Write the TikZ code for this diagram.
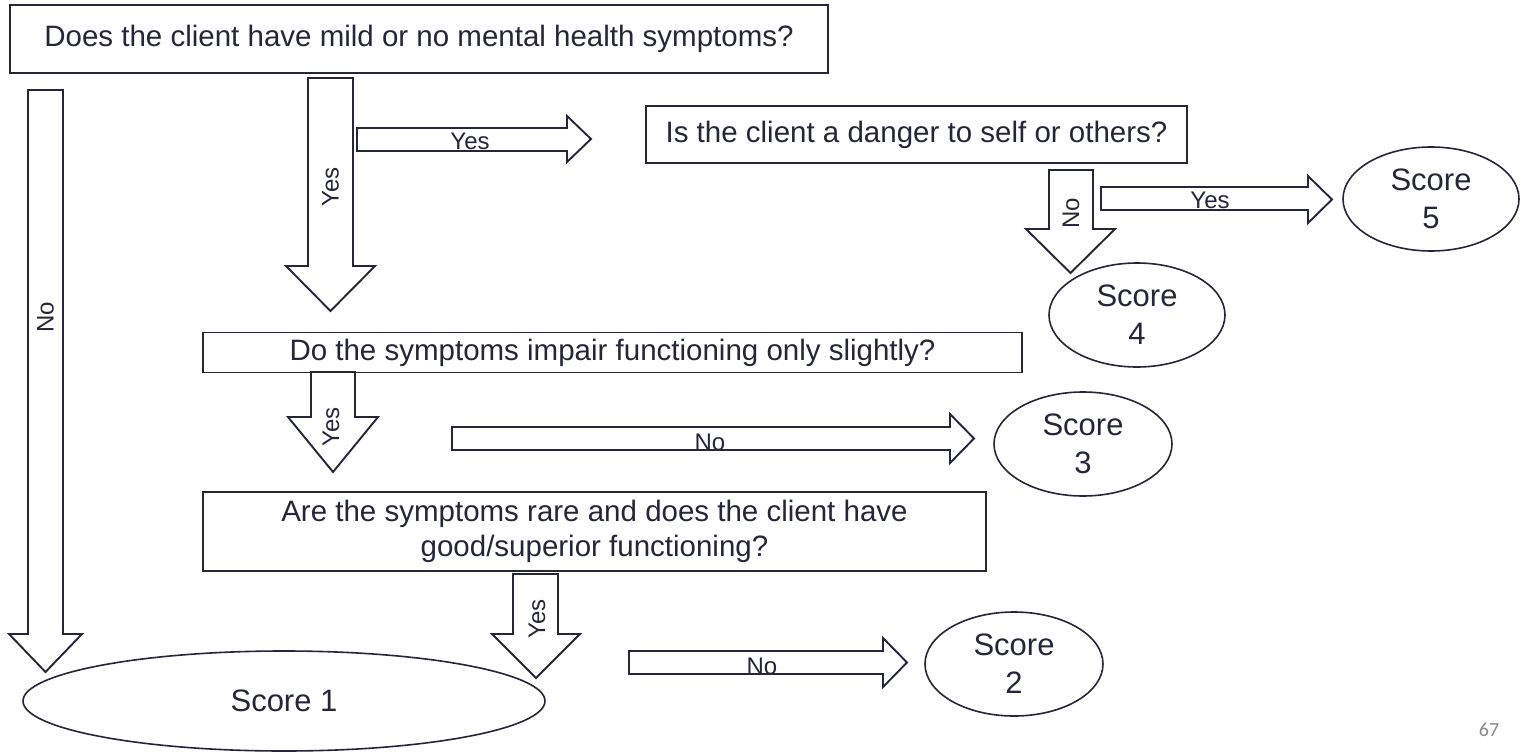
\documentclass[tikz,border=0pt]{standalone}
\usepackage{fontspec}
\setmainfont{Liberation Sans}
\newfontfamily\pagefont{Carlito}
\usetikzlibrary{shapes.geometric}
\definecolor{ink}{RGB}{38,38,58}
\definecolor{pagegray}{RGB}{137,137,137}

% block arrow pointing down:
% shaft left, shaft right, shaft top, head base, head left, head right, tip y
\newcommand\downblock[7]{%
  \draw[blockline] (#1,#3) -- (#1,#4) -- (#5,#4) -- ({(#5+#6)/2},#7)
    -- (#6,#4) -- (#2,#4) -- (#2,#3) -- cycle;}
% block arrow pointing right:
% shaft top, shaft bottom, shaft left, head base, head top, head bottom, tip x
\newcommand\rightblock[7]{%
  \draw[blockline] (#3,#1) -- (#4,#1) -- (#4,#5) -- (#7,{(#5+#6)/2})
    -- (#4,#6) -- (#4,#2) -- (#3,#2) -- cycle;}

\tikzset{
  blockline/.style={draw=ink, line width=1.9pt, fill=white, line join=miter},
  question/.style={draw=ink, line width=1.9pt, fill=white, rectangle, inner sep=0pt,
    text=ink, align=center, font=\fontsize{29.5}{35}\selectfont},
  score/.style={draw=ink, line width=1.6pt, fill=white, ellipse, inner sep=0pt,
    text=ink, align=center, font=\fontsize{31}{38}\selectfont},
  lbl/.style={text=ink, inner sep=0pt, font=\fontsize{24}{28}\selectfont},
}

\begin{document}
\begin{tikzpicture}[x=1pt,y=-1pt]
\useasboundingbox (0,0) rectangle (1527,752);
\fill[white] (0,0) rectangle (1527,752);

% questions
\node[question, minimum width=818pt, minimum height=68pt] (q1) at (419,39)
  {Does the client have mild or no mental health symptoms?};
\node[question, minimum width=541pt, minimum height=57pt] (q2) at (916.5,134.5)
  {Is the client a danger to self or others?};
\node[question, minimum width=819pt, minimum height=40pt] (q3) at (612.5,352.5)
  {Do the symptoms impair functioning only slightly?};
\node[question, minimum width=783pt, minimum height=79pt] (q4) at (594.5,531.5)
  {Are the symptoms rare and does the client have\\good/superior functioning?};

% outcomes
\node[score, minimum width=176pt, minimum height=104pt] (s5) at (1431,199) {Score\\5};
\node[score, minimum width=176pt, minimum height=104pt] (s4) at (1137,315) {Score\\4};
\node[score, minimum width=178pt, minimum height=104pt] (s3) at (1083,444) {Score\\3};
\node[score, minimum width=178pt, minimum height=104pt] (s2) at (1014,664) {Score\\2};
\node[score, minimum width=522pt, minimum height=100pt] (s1) at (284,701) {Score 1};

% block arrows
\downblock{28}{63}{90}{634}{9}{82}{672}
\node[lbl, rotate=90] (noA) at (45.5,317) {No};

\downblock{308}{353}{78}{266}{286}{375}{311}
\node[lbl, rotate=90] (yesA) at (330.5,187) {Yes};

\rightblock{128}{151}{357}{567}{116}{162}{591}
\node[lbl, anchor=base] (yesB) at (470,149) {Yes};

\downblock{1049}{1093}{170}{229}{1026}{1115}{273}
\node[lbl, rotate=90] (noB) at (1071,213) {No};

\rightblock{187}{210}{1101}{1308}{176}{223}{1332}
\node[lbl, anchor=base] (yesC) at (1210,208) {Yes};

\downblock{311}{355}{372}{417}{288}{378}{472}
\node[lbl, rotate=90] (yesD) at (331,427) {Yes};

\rightblock{427}{450}{452}{950}{414}{463}{974}
\node[lbl, anchor=base] (noC) at (710,450) {No};

\downblock{513}{558}{574}{634}{492}{580}{678}
\node[lbl, rotate=90] (yesE) at (537,619) {Yes};

\rightblock{651}{674}{629}{883}{638}{687}{907}
\node[lbl, anchor=base] (noD) at (762,674) {No};

% page number
\node[text=pagegray, inner sep=0pt, font=\pagefont\fontsize{20}{24}\selectfont] (pg) at (1489,730) {67};
\end{tikzpicture}
\end{document}
